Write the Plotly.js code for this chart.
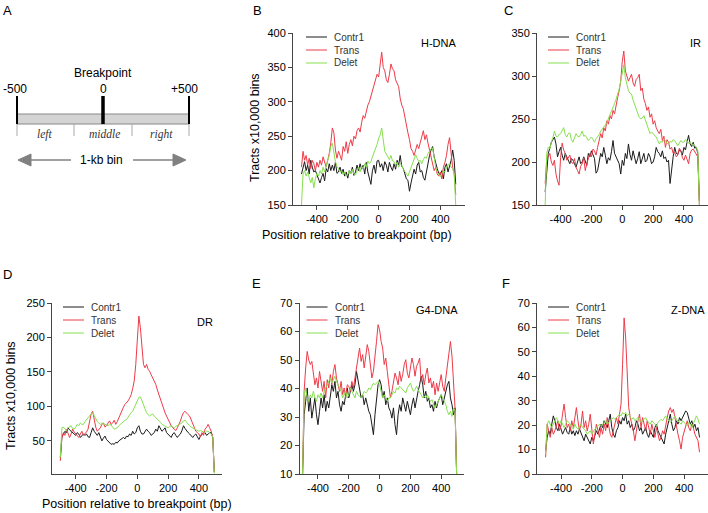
<!DOCTYPE html>
<html>
<head>
<meta charset="utf-8">
<script src="https://cdn.plot.ly/plotly-3.0.1.min.js"></script>
<style>html,body{margin:0;padding:0;background:#fff}#chart{width:708px;height:513px}</style>
</head>
<body>
<div id="chart"></div>
<script>
// ---------------- DATA ----------------
const positions = [-500,-490,-480,-470,-460,-450,-440,-430,-420,-410,-400,-390,-380,-370,-360,-350,-340,-330,-320,-310,-300,-290,-280,-270,-260,-250,-240,-230,-220,-210,-200,-190,-180,-170,-160,-150,-140,-130,-120,-110,-100,-90,-80,-70,-60,-50,-40,-30,-20,-10,0,10,20,30,40,50,60,70,80,90,100,110,120,130,140,150,160,170,180,190,200,210,220,230,240,250,260,270,280,290,300,310,320,330,340,350,360,370,380,390,400,410,420,430,440,450,460,470,480,490,500];

const seriesNames = ['Contr1','Trans','Delet'];
const panelNames = ['H-DNA','IR','DR','G4-DNA','Z-DNA'];
const xTickVals = [-400,-200,0,200,400];
const xTickText = ['-400','-200','0','200','400'];

// H-DNA (B)
const hdnaContr1 = [195,205,213,200,208,195,215,205,198,200,194,186,182,190,196,185,203,198,210,200,208,200,212,196,198,205,196,202,192,198,189,200,196,205,193,198,208,200,210,202,208,195,212,198,190,180,200,208,196,214,215,205,210,200,213,208,198,212,205,200,210,202,215,208,222,206,203,195,188,186,170,182,190,202,195,208,212,198,200,190,186,198,213,222,230,235,220,210,203,196,194,200,188,205,210,198,205,215,230,215,180];
const hdnaTrans = [205,228,215,222,208,218,203,215,210,200,212,205,215,208,220,212,205,215,225,240,262,255,230,218,228,222,215,235,228,242,225,238,245,236,250,246,258,262,256,270,280,276,288,295,300,308,318,326,332,340,336,355,372,350,345,332,328,340,355,348,345,332,328,322,305,295,290,278,262,255,245,232,228,222,230,238,232,240,250,258,245,252,240,230,218,210,200,205,195,192,198,188,205,212,222,238,248,225,205,195,165];
const hdnaDelet = [150,195,200,192,198,188,182,190,175,188,196,192,200,195,205,198,208,215,222,235,240,225,213,206,203,198,200,194,198,192,194,200,196,202,195,194,200,205,198,206,203,210,205,214,210,213,220,226,232,238,247,252,262,245,228,224,220,216,222,214,213,208,212,205,210,208,202,198,194,192,198,205,212,218,223,218,213,215,210,216,220,218,225,228,232,233,215,205,198,194,191,196,200,198,205,208,210,205,203,195,150];

// IR (C)
const irContr1 = [165,194,210,216,223,226,229,221,206,212,217,208,202,210,206,200,198,204,202,198,194,200,206,198,200,206,202,196,210,206,213,208,204,187,190,200,210,206,217,208,198,205,202,212,225,210,206,200,198,186,202,196,210,204,221,209,202,213,206,198,204,212,198,204,210,200,202,210,206,198,200,206,217,212,210,206,213,204,206,200,202,175,194,206,217,210,209,214,213,208,217,214,223,231,221,218,223,216,217,210,155];
const irTrans = [175,202,206,210,200,196,202,186,178,173,205,222,214,210,202,206,208,200,198,204,194,190,186,195,198,205,190,198,204,210,206,215,213,208,217,225,233,228,240,236,248,244,254,250,260,256,267,275,283,294,317,329,306,300,294,298,302,292,288,296,298,302,283,286,273,268,260,264,252,256,244,248,240,236,233,238,225,230,217,226,223,215,217,210,211,206,208,216,213,205,202,208,204,198,210,214,215,212,210,206,150];
const irDelet = [150,210,217,215,223,228,236,230,229,232,233,236,240,232,229,233,234,226,223,228,233,230,229,232,236,230,231,228,225,227,229,226,223,227,229,232,236,238,240,243,246,250,256,259,263,268,273,278,285,294,302,313,298,290,283,280,279,272,267,262,256,252,250,251,254,248,244,238,233,235,233,230,229,225,221,224,223,226,225,222,221,224,223,226,225,222,219,222,225,223,223,226,225,222,223,220,221,219,217,213,150];

// DR (D)
const drContr1 = [26,55,60,64,62,69,66,64,62,60,58,62,60,55,57,60,58,60,56,55,62,69,64,60,58,62,56,50,54,57,52,50,47,45,46,45,48,47,50,52,54,55,53,57,56,60,58,64,60,62,69,72,64,60,60,63,67,64,62,58,60,62,67,64,72,68,64,66,69,62,60,57,55,60,62,58,55,58,60,65,72,68,64,62,60,58,55,58,60,56,52,57,60,62,62,58,60,62,62,55,5];
const drTrans = [21,55,62,58,67,62,55,60,67,63,60,57,55,60,64,58,60,63,67,78,89,93,79,70,64,66,69,74,76,70,72,76,79,74,76,80,74,78,84,90,96,99,103,105,108,112,117,126,137,161,199,231,214,185,161,156,161,154,151,146,142,136,132,124,117,110,103,96,91,86,81,76,72,69,67,65,69,73,79,86,91,93,90,88,86,80,74,68,64,62,60,56,62,58,67,70,74,69,64,55,4];
const drDelet = [26,69,70,67,65,69,70,72,68,67,70,74,72,76,74,74,78,81,84,86,89,91,86,81,78,76,74,76,75,74,72,72,74,73,70,67,68,69,72,74,77,79,80,81,85,89,91,93,98,103,110,113,114,108,103,96,91,88,86,88,89,86,84,82,79,77,74,73,72,70,69,71,72,70,69,71,72,73,74,76,79,80,77,74,72,70,69,68,67,66,64,65,64,63,62,64,64,62,60,55,3];

// G4-DNA (E)
const g4Contr1 = [10,30.8,35.5,40.2,32,36.7,29.6,33.2,36.7,30.8,27.3,32,36.7,33.2,37.8,32,35.5,33.2,37.8,41.3,39,42.5,36.7,39,34.3,32,35.5,34.3,37.8,40.2,36.7,39,41.3,39,41.3,46,42.5,39,36.7,37.8,34.3,36.7,34.3,32,30.8,27.3,23.8,30.8,36.7,41.3,43.1,41.3,36.7,39,34.3,36.7,33.2,32,29.6,33.2,27.3,23.8,30.8,34.3,32,36.7,34.3,32,35.5,33.2,30.8,34.3,36.7,33.2,36.7,39,41.3,44.3,41.3,36.7,39,35.5,36.7,33.2,34.3,32,35.5,33.2,35.5,36.7,37.8,34.3,36.7,39,41.3,42.5,36.7,34.3,30.8,33.2,10];
const g4Trans = [10,39,47.2,53,50,48.4,49.5,46,41.3,43.7,40.2,46,43,39,42.5,36.7,43.1,40.2,44.9,41.3,46,48.4,43.7,41.3,39,42.5,37.8,40.2,36.7,41.3,40.8,39,42.5,40.2,43.7,48.4,51.9,54.2,49.5,51.9,47.2,50.7,55.4,53,48.4,43.7,46,50.7,56.5,62.4,60.6,56.5,54.2,48.4,50.7,46,40.2,36.7,39,42.5,45.4,43.7,41.3,46,42.5,44.9,48.4,50.1,45.4,43.7,47.2,50.7,48.4,44.3,47.8,48.9,50.7,42.5,44.9,41.3,44.9,47.2,41.9,43.7,40.2,42.5,37.8,41.9,39,42.5,44.9,40.8,39,43.7,48.4,53,56.5,51.3,43.7,33,10];
const g4Delet = [10,37.8,40.2,36.7,35.5,37.8,36.7,39,36.7,35.5,37.8,36.7,38.4,36.7,39,40.2,41.3,42.5,43.7,41.9,43.1,44.3,42.5,41.3,40.2,39,36.7,37.8,39,36.7,37.8,40.2,39,37.8,36.7,39,37.8,37.3,36.7,37.8,39,38.4,39,40.2,39.6,40.8,41.9,41.3,41.9,42.5,41.3,39,36.7,37.8,36.7,35.5,36.7,36.7,37.8,39,38.4,40.2,39.6,40.8,40.2,39.6,39,38.4,40.2,41.3,41.9,40.2,39,39.6,40.8,39.6,38.4,37.8,36.7,37.3,36.7,37.8,36.7,35.5,36.1,34.3,33.2,34.3,35.5,36.7,37.8,36.7,35.5,34.3,32,30.8,32,30.2,33.2,32,10];

// Z-DNA (F)
const zContr1 = [9.5,15,17.7,16.3,20.4,23.8,21.8,19,17.7,20.4,18.4,16.3,17.7,19,17,16.3,19,16.3,17.7,15.7,17.7,16.3,18.4,17,15,13.6,16.3,15,13.6,12.3,15,13.6,15.7,17.7,16.3,18.4,20.4,19,21.8,20.4,19,21.8,24.5,19,16.3,15,17.7,19,21.8,20.4,23.1,21.8,24.5,20.4,21.8,19,20.4,17.7,19,21.8,20.4,17.7,19,16.3,17.7,19,16.3,15,17.7,16.3,15,19,20.4,17.7,16.3,15,13.6,12.3,16.3,19,21.8,24.5,20.4,17.7,19,21.8,20.4,23.1,21.8,23.1,24.5,25.8,25.2,23.1,20.4,21.8,19,20.4,17.7,19,15];
const zTrans = [6.8,20.4,17.7,15,19,16.3,17.7,20.4,21.8,17.7,19.7,24.5,28.6,23.1,19,20.4,17.7,21.8,19,23.1,27.2,21.8,17.7,20.4,25.8,19,21.8,17.7,20.4,24.5,17.7,12.3,16.3,20.4,17.7,15,19,16.3,20.4,17.7,23.1,19,16.3,15,17.7,20.4,23.1,20.4,24.5,28.6,44.9,63.9,55.7,39.4,27.2,23.1,20.4,17.7,13.6,19,21.8,24.5,19,23.1,20.4,17.7,21.8,19,16.3,20.4,17.7,15,19,16.3,13.6,15,17.7,16.3,20.4,23.1,25.8,27.2,25.2,26.5,23.1,19,16.3,13.6,10.2,15,17.7,20.4,21.8,19,17.7,20.4,19,16.3,15,13.6,8.9];
const zDelet = [8.2,20.4,21.8,20.4,19,20.4,21.8,23.1,21.8,20.4,21.8,20.4,19,20.4,21.8,21.1,20.4,19,18.4,20.4,19,18.4,19.7,20.4,19,18.4,17.7,16.3,17,17.7,16.3,17.7,18.4,19,19.7,20.4,19.7,20.4,21.1,21.8,20.4,21.1,21.8,22.4,23.1,22.4,23.1,23.8,24.5,23.8,25.2,24.5,25.2,23.8,24.5,23.1,22.4,23.1,21.8,22.4,23.1,21.8,21.1,21.8,22.4,23.1,21.8,21.1,20.4,21.8,21.1,20.4,19.7,21.1,21.8,22.4,21.8,23.1,23.8,22.4,21.8,21.1,21.8,23.1,23.8,22.4,21.8,21.1,20.4,21.8,21.1,20.4,19.7,21.1,20.4,19,20.4,21.8,23.8,22.4,20.4];

// ---------------- STYLE / LAYOUT ----------------
const W = 708, H = 513;
const X = p => p / W;
const Y = p => 1 - p / H;
const colors = ['#1a1a1a', '#ee3a48', '#86e04e'];
const FONT = 'Liberation Sans, Arial, sans-serif';

const panels = [
  {data:[hdnaContr1, hdnaTrans, hdnaDelet], ax:'', x0:293, x1:465, y0:33, y1:205, xr:[-555,560], yr:[150,400], yt:[150,200,250,300,350,400]},
  {data:[irContr1, irTrans, irDelet], ax:'2', x0:537, x1:708, y0:33, y1:205, xr:[-553,556], yr:[150,350], yt:[150,200,250,300,350]},
  {data:[drContr1, drTrans, drDelet], ax:'3', x0:52, x1:222, y0:303, y1:474, xr:[-554,550], yr:[2,250], yt:[50,100,150,200,250]},
  {data:[g4Contr1, g4Trans, g4Delet], ax:'4', x0:299.5, x1:464, y0:303, y1:474, xr:[-520,548], yr:[10,70], yt:[10,20,30,40,50,60,70]},
  {data:[zContr1, zTrans, zDelet], ax:'5', x0:537, x1:708, y0:303, y1:474, xr:[-556,555], yr:[0,70], yt:[0,10,20,30,40,50,60,70]}
];

const traces = [];
const layout = {
  width: W, height: H,
  margin: {l:0, r:0, t:0, b:0, pad:0},
  paper_bgcolor: '#fff', plot_bgcolor: 'rgba(0,0,0,0)',
  showlegend: false,
  font: {family: FONT, size: 11, color: '#000'},
  annotations: [], shapes: []
};

const axisBase = {
  showline: true, linecolor: '#444', linewidth: 1,
  ticks: 'outside', ticklen: 4, tickwidth: 1, tickcolor: '#444',
  showgrid: false, zeroline: false, fixedrange: true,
  tickfont: {family: FONT, size: 11, color: '#000'}
};

// legend geometry per panel (px offsets from y-axis line)
const legendOff = [13, 11, 11, 7, 11];
const labelPos = [[458,43],[703,43],[215,322],[460,310],[707,310]];

panels.forEach((p, i) => {
  const xa = 'x' + p.ax, ya = 'y' + p.ax;
  [0,1,2].forEach(s => {
    traces.push({
      x: positions, y: p.data[s], type: 'scatter', mode: 'lines',
      name: seriesNames[s], xaxis: xa, yaxis: ya,
      line: {color: colors[s], width: 1}, hoverinfo: 'skip'
    });
  });
  layout['xaxis' + p.ax] = Object.assign({}, axisBase, {
    domain: [X(p.x0), Math.min(1, X(p.x1))], range: p.xr, anchor: ya,
    tickmode: 'array', tickvals: xTickVals, ticktext: xTickText
  });
  layout['yaxis' + p.ax] = Object.assign({}, axisBase, {
    domain: [Y(p.y1), Y(p.y0)], range: p.yr, anchor: xa,
    tickmode: 'array', tickvals: p.yt, ticktext: p.yt.map(String)
  });
  // legend
  const lx = p.x0 + legendOff[i];
  [0,1,2].forEach(s => {
    const ry = p.y0 + 4 + 13 * s;
    layout.shapes.push({type:'line', xref:'paper', yref:'paper',
      x0: X(lx), x1: X(lx + 21), y0: Y(ry), y1: Y(ry),
      line: {color: colors[s], width: 1}});
    layout.annotations.push({xref:'paper', yref:'paper', x: X(lx + 26), y: Y(ry),
      xanchor:'left', yanchor:'middle', showarrow:false, text: seriesNames[s],
      font: {family: FONT, size: 10, color: '#333'}});
  });
  layout.annotations.push({xref:'paper', yref:'paper', x: X(labelPos[i][0]), y: Y(labelPos[i][1]),
    xanchor:'right', yanchor:'middle', showarrow:false, text: panelNames[i],
    font: {family: FONT, size: 11, color: '#000'}});
});

function ann(x, y, text, size, opts) {
  layout.annotations.push(Object.assign({xref:'paper', yref:'paper', x: X(x), y: Y(y),
    xanchor:'center', yanchor:'middle', showarrow:false, text: text,
    font: {family: FONT, size: size, color: '#000'}}, opts || {}));
}

// panel letters
ann(7, 10, 'A', 13); ann(257, 10, 'B', 13); ann(508, 10, 'C', 13);
ann(7, 274, 'D', 13); ann(256, 283, 'E', 13); ann(506, 283, 'F', 13);

// axis titles
ann(255, 128, 'Tracts x10,000 bins', 12.5, {textangle: -90});
ann(11, 396, 'Tracts x10,000 bins', 12.5, {textangle: -90});
ann(357, 235, 'Position relative to breakpoint (bp)', 12.5);
ann(137, 504, 'Position relative to breakpoint (bp)', 12.5);

// ---------------- Panel A schematic ----------------
function line(x0, y0, x1, y1, color, width) {
  layout.shapes.push({type:'line', xref:'paper', yref:'paper',
    x0: X(x0), y0: Y(y0), x1: X(x1), y1: Y(y1), line:{color: color, width: width}});
}
layout.shapes.push({type:'rect', xref:'paper', yref:'paper',
  x0: X(17), x1: X(189), y0: Y(124), y1: Y(114),
  fillcolor:'#d4d4d4', line:{color:'#888', width:1}});
line(17, 96, 17, 124, '#000', 2);
line(189, 96, 189, 124, '#000', 2);
line(103, 96, 103, 124, '#000', 3.5);
[17, 74, 132, 189].forEach(x => line(x, 124, x, 136, '#aaa', 1));
ann(103, 73, 'Breakpoint', 12);
ann(15, 89, '-500', 12);
ann(103, 89, '0', 12);
ann(184, 89, '+500', 12);
const serif = 'Liberation Serif, Times New Roman, serif';
ann(44, 134, '<i>left</i>', 11.5, {font:{family: serif, size: 11.5, color:'#333'}});
ann(104, 134, '<i>middle</i>', 11.5, {font:{family: serif, size: 11.5, color:'#333'}});
ann(161, 134, '<i>right</i>', 11.5, {font:{family: serif, size: 11.5, color:'#333'}});
ann(101, 160, '1-kb bin', 12);
line(28, 160, 71, 160, '#808080', 1.5);
line(133, 160, 176, 160, '#808080', 1.5);
function tri(pts) {
  const d = 'M ' + pts.map(p => X(p[0]) + ' ' + Y(p[1])).join(' L ') + ' Z';
  layout.shapes.push({type:'path', xref:'paper', yref:'paper', path: d,
    fillcolor:'#808080', line:{color:'#808080', width:1}});
}
tri([[18,160],[31,154],[31,166]]);
tri([[186,160],[173,154],[173,166]]);

Plotly.newPlot('chart', traces, layout, {staticPlot: true, displayModeBar: false});
</script>
</body>
</html>
